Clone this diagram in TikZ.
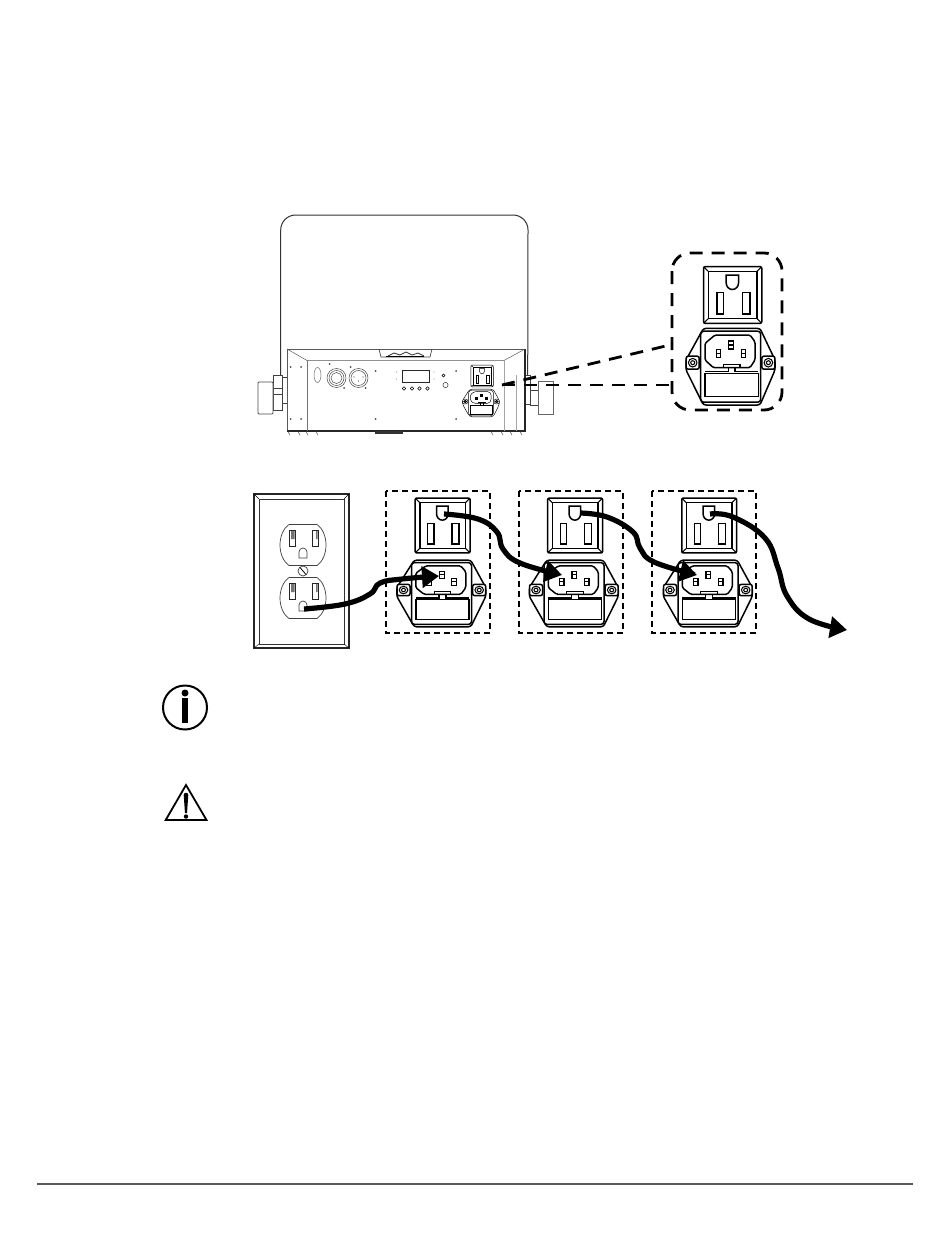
\documentclass[tikz,border=0pt]{standalone}
\usetikzlibrary{arrows.meta}
\def\plw{1.5pt}
\tikzset{
  x=1pt,y=-1pt,
  cable/.style={line width=5.2pt,-{Triangle[length=17pt,width=21pt]}},
  bigdash/.style={line width=2.8pt,dash pattern=on 13pt off 9pt},
  smalldash/.style={line width=1.4pt,dash pattern=on 6pt off 4pt},
  thin line/.style={line width=0.7pt,black!75},
  outletpic/.pic={
    \draw[line width=\plw,rounded corners=1.5pt] (-29,-28.3) rectangle (29.3,28.3);
    \draw[line width=\plw] (-24,-23.5) rectangle (24.3,23.5);
    \draw[line width=0.7*\plw] (-29,-28.3)--(-24,-23.5) (29.3,-28.3)--(24.3,-23.5) (-29,28.3)--(-24,23.5) (29.3,28.3)--(24.3,23.5);
    \draw[line width=\plw] (-6.3,-20)--(6,-20)--(6,-12) arc[start angle=0,end angle=180,x radius=6.15,y radius=6.5] --cycle;
    \draw[line width=\plw] (-15.7,-2.3) rectangle (-9,19);
    \draw[line width=\plw] (10,-2.3) rectangle (17.7,19);
  },
  inletpic/.pic={
    \draw[line width=\plw,rounded corners=2.5pt] (-27.3,-38.3)--(29.3,-38.3)--(44.3,-6.7)--(44.3,3.3)--(29.3,38.3)--(-27.3,38.3)--(-44.7,3.3)--(-44.7,-6.7)--cycle;
    \draw[line width=\plw,rounded corners=3pt] (-30,-35.5) rectangle (30,35.5);
    \draw[line width=\plw,rounded corners=1.5pt,fill=white] (-15.7,-31.7)--(19.3,-31.7)--(24.3,-25)--(24.3,-6.7)--(19.3,1)--(-17.3,1)--(-25.7,-6.7)--(-25.7,-23.3)--cycle;
    \foreach \px/\py in {0.3/-21.7,-12.3/-13.3,12.7/-13.3}{
      \draw[line width=0.7*\plw] (\px-2.3,\py-4) rectangle (\px+2.3,\py+4) (\px-2.3,\py)--(\px+2.3,\py);
    }
    \draw[line width=0.8*\plw] (-7.3,1)--(-7.3,-2.3)--(9.3,-2.3)--(9.3,1);
    \draw[line width=\plw] (-25.7,5)--(-2.3,5)--(-2.3,1) (4.3,1)--(4.3,5)--(27.7,5);
    \draw[line width=\plw] (-25.7,7)rectangle(27.7,30);
    \foreach \sx in {-38,37.7}{
      \draw[line width=\plw,rounded corners=2pt,fill=white] (\sx-6.5,-10.5) rectangle (\sx+6.5,2.5);
      \draw[line width=0.7*\plw] (\sx,-4) circle (4.3) (\sx,-4) circle (2);
    }
  },
  receptaclepic/.pic={
    \draw[thin line] (-14,-20.5) .. controls (-26,-12) and (-26,12) .. (-14,20.5) -- (14,20.5) .. controls (26,12) and (26,-12) .. (14,-20.5) -- cycle;
    \draw[line width=1pt,black!85] (-14,-15) rectangle (-8,1) (9,-15) rectangle (15,1);
    \fill[black!55] (-12,-14) rectangle (-8.5,-6) (13,-14) rectangle (14.5,-6);
    \draw[thin line] (-4,13) -- (4,13) -- (4,7) arc[start angle=0,end angle=-180,radius=4] -- cycle;
  }
}
\begin{document}
\begin{tikzpicture}
\useasboundingbox[fill=white] (0,0) rectangle (950,1244);
% housing
\draw[line width=1pt,black!80] (280.7,375) -- (280.7,230) arc[start angle=180,end angle=270,radius=15] -- (513,215) arc[start angle=-90,end angle=0,radius=15] -- (527.7,375);
% left knob
\draw[thin line,fill=white] (273,375) rectangle (282,410);
\draw[thin line] (282,377) rectangle (287,403);
\draw[thin line] (273,388)--(282,388) (273,394)--(282,394);
\draw[line width=0.9pt,black!70,fill=white,rounded corners=1pt] (258,382) rectangle (273,414);
% right knob
\draw[thin line,fill=white] (525,375) rectangle (530,404);
\draw[thin line] (530,390) rectangle (538,405);
\draw[line width=0.5pt,black!60] (538,381) rectangle (553,414);
% panel
\fill[white] (287,349) rectangle (525,431);
\draw[line width=0.7pt,black!65] (287,431)--(287,349)--(525,349);
\draw[line width=1.1pt,black!85] (525,349)--(525,431)--(287,431);
\draw[line width=0.5pt,black!65] (287,349)--(307,360.5)--(504,360.5)--(525,349);
\draw[line width=0.5pt,black!55] (307,360.5)--(307,431);
\draw[line width=0.3pt,black!35] (504,360.5)--(504,431) (516,375)--(516,431);
% handle
\draw[thin line] (379,349)--(381,357)--(430,357)--(432,349);
\draw[line width=0.8pt,black!80] (388,356)--(394,353)--(400,355)--(406,352)--(412,355)--(418,353)--(424,356);
\draw[line width=0.6pt] (386,356.5)--(424,356.5);
% feet
\fill[black!80] (375,431) rectangle (403,433.5);
\foreach \fx in {288,298,306,316,491,501,510,520}{
  \draw[line width=0.5pt,black!70] (\fx,431.5) -- (\fx+2,435);
}
% panel connectors
\draw[line width=0.5pt,black!60] (317.5,375) ellipse (3.5 and 7.5);
\draw[line width=0.5pt,black!70] (336.5,378) circle (9.5) circle (7.5) circle (5.5);
\draw[line width=0.5pt,black!70] (358.5,378) circle (9.5) circle (7.5);
\foreach \dx/\dy in {329.5/364,344/388,350.5/367,365.5/388,375.5/371,375.5/419,456/371,456/419,290.5/367,301/367,290.5/419,301/419}{
  \fill[black!70] (\dx,\dy) circle (1);
}
\foreach \dx/\dy in {354/377,358.5/381,363/377}{ \fill[black!70] (\dx,\dy) circle (0.7); }
\draw[line width=0.8pt,black!85] (402,370) rectangle (429,382.5);
\foreach \bx in {404,412,419.5,427.5}{ \draw[line width=0.5pt] (\bx,388.5) circle (1.7); }
\foreach \dx/\dy in {396.5/372,396.5/379,434/372,434/379}{ \fill[black!40] (\dx,\dy) circle (0.7); }
\draw[line width=0.4pt] (443.5,375.5) circle (1.5) (445.5,385) circle (2.6);
\begingroup
\def\plw{0.45pt}
\pic at (482,376) [scale=0.385] {outletpic};
\pic at (481,403) [xscale=0.415,yscale=0.36] {inletpic};
\endgroup
% big detail
\pic (bigout) at (732.5,295) {outletpic};
\pic (bigin) at (730.7,366.7) {inletpic};
\draw[bigdash,rounded corners=18pt] (672,253) rectangle (782,410);
\coordinate (src) at (502,385);
\coordinate (boxa) at (672,344.5);
\coordinate (boxb) at (672,385);
\draw[bigdash] (src) -- (boxa);
\draw[bigdash] (src) -- (boxb);
% wall plate
\draw[line width=1.1pt,black!85] (254,494) rectangle (349,648);
\draw[line width=0.7pt,black!80] (259,499) rectangle (344,644);
\draw[line width=0.4pt] (254,494)--(259,499) (349,494)--(344,499) (254,648)--(259,644) (349,648)--(344,644);
\pic at (303,545) {receptaclepic};
\pic at (303,598) {receptaclepic};
\draw[thin line] (303,571) circle (5);
\draw[line width=0.8pt] (300,567.5)--(306,574.5);
% chain
\foreach \ox/\ix/\bx in {442.5/441.5/386,575/574/519,709/708/652}{
  \draw[smalldash] (\bx,491) rectangle (\bx+104,633);
  \pic at (\ox,525.5) [xscale=0.94,yscale=0.97] {outletpic};
  \pic at (\ix,593.5) [yscale=0.87] {inletpic};
}
% cables
\coordinate (a1) at (304,609); \coordinate (a2) at (345,604); \coordinate (a3) at (370,594); \coordinate (a4) at (380,583); \coordinate (a5) at (402,579); \coordinate (a6) at (439,576);
\coordinate (b1) at (444,514); \coordinate (b2) at (478,519); \coordinate (b3) at (497,532); \coordinate (b4) at (503,549); \coordinate (b5) at (520,563); \coordinate (b6) at (562,575);
\coordinate (c1) at (580,513); \coordinate (c2) at (607,517); \coordinate (c3) at (633,532); \coordinate (c4) at (640,548); \coordinate (c5) at (654,562); \coordinate (c6) at (697,575);
\coordinate (d1) at (710,514); \coordinate (d2) at (733,517); \coordinate (d3) at (765,538); \coordinate (d4) at (778,568); \coordinate (d5) at (787,596); \coordinate (d6) at (809,619); \coordinate (d7) at (847,630);
\draw[cable] plot[smooth,tension=0.7] coordinates {(a1) (a2) (a3) (a4) (a5) (a6)};
\draw[cable] plot[smooth,tension=0.7] coordinates {(b1) (b2) (b3) (b4) (b5) (b6)};
\draw[cable] plot[smooth,tension=0.7] coordinates {(c1) (c2) (c3) (c4) (c5) (c6)};
\draw[cable] plot[smooth,tension=0.7] coordinates {(d1) (d2) (d3) (d4) (d5) (d6) (d7)};
% info icon
\draw[line width=2pt] (185,707.5) circle (22);
\fill (182,698) rectangle (188,723);
\fill (185,693) circle (3.5);
% warning icon
\draw[line width=1.8pt,line join=miter] (186,785)--(206.5,820)--(165.7,820)--cycle;
\fill (183.7,795) arc[start angle=180,end angle=0,radius=2.3,y radius=-2.3] -- (187,813) -- (185,813) -- cycle;
\fill (186,816.5) circle (2.2);
% rule
\draw[line width=1.3pt,black!65] (37,1184) -- (913,1184);
\end{tikzpicture}
\end{document}
